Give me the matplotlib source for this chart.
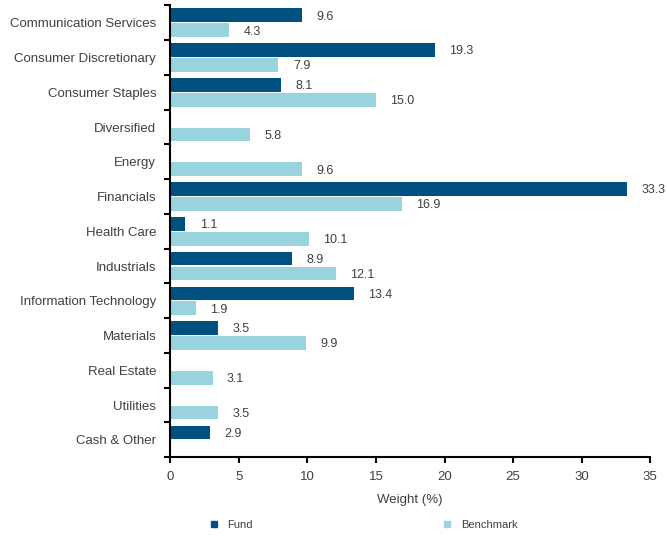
import numpy as np
import matplotlib.pyplot as plt

plt.rcParams['font.family'] = ['Liberation Sans', 'DejaVu Sans']

sectors = ["Communication Services", "Consumer Discretionary", "Consumer Staples",
           "Diversified", "Energy", "Financials", "Health Care", "Industrials",
           "Information Technology", "Materials", "Real Estate", "Utilities",
           "Cash & Other"]
fund = [9.6, 19.3, 8.1, None, None, 33.3, 1.1, 8.9, 13.4, 3.5, None, None, 2.9]
benchmark = [4.3, 7.9, 15.0, 5.8, 9.6, 16.9, 10.1, 12.1, 1.9, 9.9, 3.1, 3.5, None]

dark = "#00517f"
light = "#99d3dd"
text_col = "#404040"

fig = plt.figure(figsize=(6.67, 5.36), dpi=100)
ax = fig.add_axes([0.255, 0.147, 0.72, 0.843])

y = np.arange(len(sectors))
h = 0.39
off = 0.215

for i in range(len(sectors)):
    if fund[i] is not None:
        ax.barh(y[i] - off, fund[i], height=h, color=dark)
        ax.text(fund[i] + 1.05, y[i] - off + 0.04, f"{fund[i]:.1f}", va="center",
                ha="left", fontsize=9, color=text_col)
    if benchmark[i] is not None:
        ax.barh(y[i] + off, benchmark[i], height=h, color=light)
        ax.text(benchmark[i] + 1.05, y[i] + off + 0.04, f"{benchmark[i]:.1f}",
                va="center", ha="left", fontsize=9, color=text_col)

ax.set_xlim(0, 35)
ax.set_ylim(len(sectors) - 0.5, -0.5)
ax.set_xticks(np.arange(0, 36, 5))
ax.tick_params(axis="x", labelsize=9.5, colors=text_col, direction="out",
               length=4, width=1.5, color="black", pad=6)

ax.set_yticks(np.arange(-0.5, len(sectors), 1.0))
ax.set_yticklabels([])
ax.tick_params(axis="y", which="major", direction="out", length=4, width=1.5,
               color="black")
ax.set_yticks(y, minor=True)
ax.set_yticklabels(sectors, minor=True)
ax.tick_params(axis="y", which="minor", length=0, labelsize=9.5,
               labelcolor=text_col, pad=10)

for s in ["top", "right"]:
    ax.spines[s].set_visible(False)
for s in ["left", "bottom"]:
    ax.spines[s].set_linewidth(1.5)

ax.set_xlabel("Weight (%)", fontsize=9.5, color=text_col, labelpad=8)

handles = [plt.Line2D([], [], marker="s", linestyle="", color=dark, markersize=4),
           plt.Line2D([], [], marker="s", linestyle="", color=light, markersize=4)]
fig.legend(handles, ["Fund", "Benchmark"], loc="center", ncol=2,
           bbox_to_anchor=(0.54, 0.02), frameon=False, fontsize=8,
           labelcolor=text_col, columnspacing=16.5, handletextpad=0.2)

fig.savefig("out.png", dpi=100)
